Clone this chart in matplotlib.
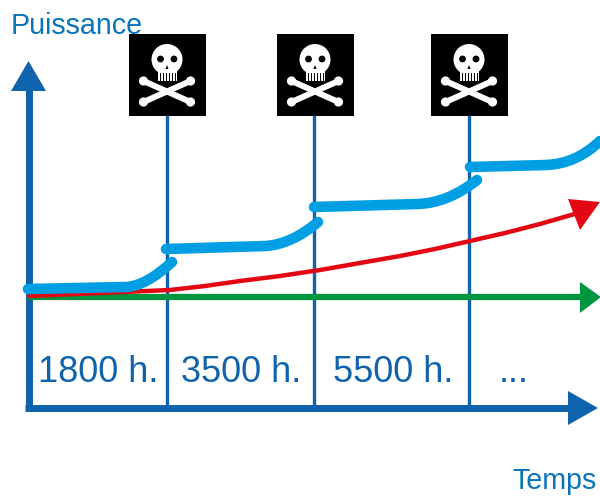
import matplotlib
matplotlib.use('Agg')
from matplotlib import pyplot as plt
from matplotlib.path import Path
from matplotlib.patches import PathPatch, Circle, Rectangle, Polygon

plt.rcParams['font.family'] = ['Liberation Sans', 'DejaVu Sans']

AXIS = '#0f62ac'
LIGHT = '#009fe3'
RED = '#e30613'
GREEN = '#009640'
TITLE = '#0a74b9'

# picture is drawn in pixel coordinates of the reference
failure_x = [167, 314, 469]
skull_x = [167, 315, 469]
lifetime_x = [98, 241, 393, 514]
lifetime_labels = ['1800 h.', '3500 h.', '5500 h.', '...']

# power steps: start, end of flat part, curve control, end
step_start = [(28, 289), (166, 249), (314, 207), (470, 167)]
step_flat = [(126, 287), (266, 246), (418, 204), (546, 165)]
step_ctrl = [(146, 286), (292, 244), (448, 203), (576, 164)]
step_end = [(172, 262), (318, 222), (477, 180), (600, 141)]

red_x = [28, 100, 170, 205, 240, 280, 320, 360, 400, 435, 470, 505, 540, 585]
red_y = [296, 293, 290, 286, 281, 276, 270, 263, 256, 249, 241, 233, 224, 211]


def skull(ax, cx):
    ax.add_patch(Rectangle((cx - 38.5, 34), 77, 81.5, fc='black', ec='none', zorder=5))
    for y0, y1 in [(81, 102), (102, 81)]:
        ax.plot([cx - 23.5, cx + 23.5], [y0, y1], color='white', lw=4.3, zorder=6)
        ax.add_patch(Circle((cx - 23.5, y0), 4.6, fc='white', ec='none', zorder=6))
        ax.add_patch(Circle((cx + 23.5, y1), 4.6, fc='white', ec='none', zorder=6))
    ax.add_patch(Circle((cx, 59.5), 15.5, fc='white', ec='none', zorder=6))
    ax.add_patch(Rectangle((cx - 9.5, 65), 19, 16, fc='white', ec='none', zorder=6))
    for off in [-7, -4, -1, 2, 5, 8]:
        ax.plot([cx + off, cx + off], [73, 81], color='black', lw=0.7, zorder=7)
    ax.add_patch(Circle((cx - 6.5, 59), 3.4, fc='black', ec='none', zorder=7))
    ax.add_patch(Circle((cx + 7, 59), 3.4, fc='black', ec='none', zorder=7))
    ax.add_patch(Polygon([(cx, 65), (cx - 1.5, 69), (cx + 1.5, 69)], fc='black', ec='none', zorder=7))


fig = plt.figure(figsize=(6, 4.96), dpi=100)
ax = fig.add_axes([0, 0, 1, 1])
ax.set_xlim(0, 600)
ax.set_ylim(496, 0)
ax.axis('off')

# axes with arrow heads
ax.plot([28.5, 28.5], [411, 88], color=AXIS, lw=5, solid_capstyle='butt', zorder=2)
ax.add_patch(Polygon([(28.5, 61), (11, 91), (46, 91)], fc=AXIS, ec='none', zorder=2))
ax.plot([25, 572], [408, 408], color=AXIS, lw=5, solid_capstyle='butt', zorder=2)
ax.add_patch(Polygon([(598, 408), (568, 391), (568, 425)], fc=AXIS, ec='none', zorder=2))

for x in failure_x:
    ax.plot([x, x], [115, 408], color=AXIS, lw=2.4, solid_capstyle='butt', zorder=2)

ax.plot([28, 584], [296.5, 296.5], color=GREEN, lw=4.5, solid_capstyle='butt', zorder=3)
ax.add_patch(Polygon([(601, 297), (580, 282), (580, 313)], fc=GREEN, ec='none', zorder=3))

ax.plot(red_x, red_y, color=RED, lw=3.2, solid_capstyle='butt', solid_joinstyle='round', zorder=3)
ax.add_patch(Polygon([(600, 202), (568, 199), (580, 230)], fc=RED, ec='none', zorder=3))

for i in range(len(step_start)):
    verts = [step_start[i], step_flat[i], step_ctrl[i], step_end[i]]
    codes = [Path.MOVETO, Path.LINETO, Path.CURVE3, Path.CURVE3]
    ax.add_patch(PathPatch(Path(verts, codes), fc='none', ec=LIGHT, lw=7.6,
                           capstyle='round', joinstyle='round', zorder=4))

for x in skull_x:
    skull(ax, x)

for x, label in zip(lifetime_x, lifetime_labels):
    ax.text(x, 373, label, color=AXIS, fontsize=26, ha='center', va='center')

ax.text(11, 26, 'Puissance', color=TITLE, fontsize=20.6, ha='left', va='center', zorder=1)
ax.text(597, 481, 'Temps', color=TITLE, fontsize=20.6, ha='right', va='center')

fig.savefig('out.png', dpi=100)
